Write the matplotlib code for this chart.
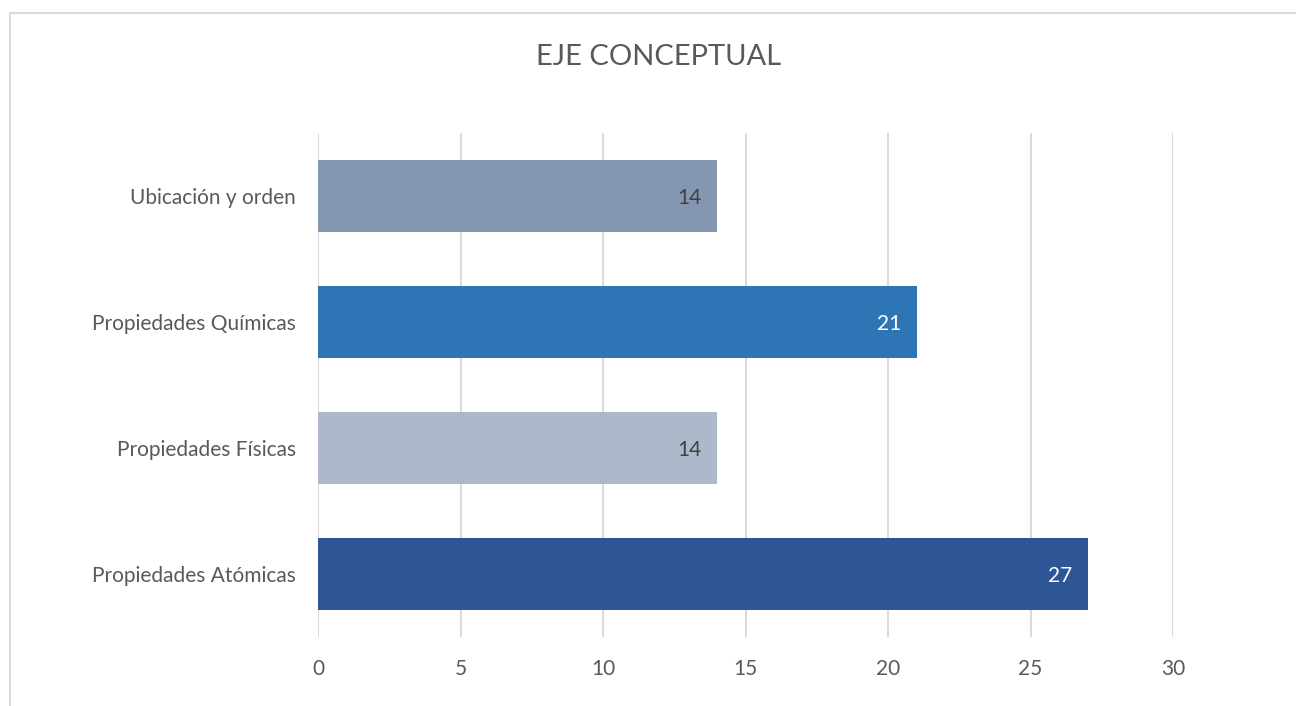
import matplotlib.pyplot as plt
from matplotlib.patches import Rectangle

categorias = ['Propiedades Atómicas', 'Propiedades Físicas', 'Propiedades Químicas', 'Ubicación y orden']
valores = [27, 14, 21, 14]
colores = ['#2F5597', '#ADB9CA', '#2E75B6', '#8497B0']
color_etiqueta = ['white', '#404040', 'white', '#404040']
ticks_x = [0, 5, 10, 15, 20, 25, 30]

plt.rcParams['font.family'] = ['Lato', 'DejaVu Sans']

fig = plt.figure(figsize=(12.96, 7.06), dpi=100)
W, H = 1296, 706

# marco del gráfico (estilo Excel)
fig.patches.append(Rectangle((10 / W, -0.1), 1.2, 1 - 13 / H + 0.1, transform=fig.transFigure,
                             fill=False, edgecolor='#D9D9D9', linewidth=1.5))

ax = fig.add_axes([318 / W, 1 - 637 / H, (1173 - 318) / W, (637 - 133) / H])
y = range(len(categorias))
ax.barh(y, valores, height=0.57, color=colores, zorder=3)

for i, v in enumerate(valores):
    ax.annotate(str(v), (v, i), xytext=(-15, -2), textcoords='offset pixels',
                ha='right', va='center', fontsize=15, color=color_etiqueta[i], zorder=4)

ax.set_xlim(0, 30)
ax.set_ylim(-0.5, 3.5)
ax.set_xticks(ticks_x)
ax.set_yticks(list(y))
ax.set_yticklabels(categorias)
ax.tick_params(axis='both', length=0, labelsize=15, labelcolor='#595959')
ax.tick_params(axis='y', pad=16)
ax.tick_params(axis='x', pad=16)
ax.grid(axis='x', color='#D9D9D9', linewidth=1.4, zorder=0)
for s in ax.spines.values():
    s.set_visible(False)

fig.text(659 / W, 1 - 57 / H, 'EJE CONCEPTUAL', ha='center', va='center',
         fontsize=21, color='#595959')

fig.savefig('out.png', dpi=100)
